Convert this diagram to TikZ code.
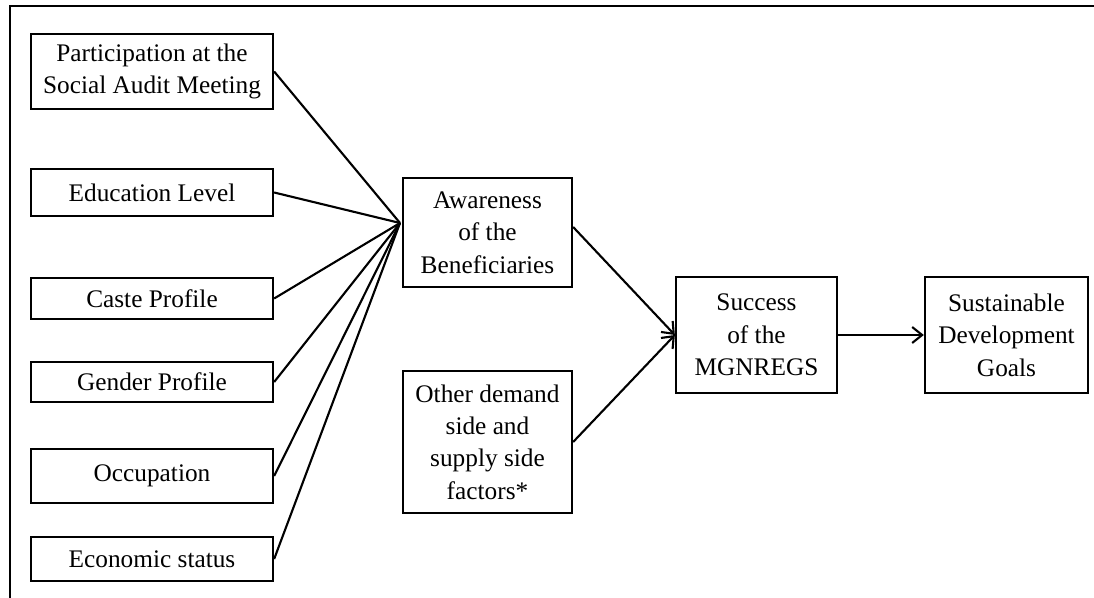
\documentclass[tikz,border=0pt]{standalone}
\usepackage{fontspec}
\setmainfont{Liberation Serif}
\usepackage{tikz}
\usetikzlibrary{arrows.meta}

\begin{document}
\begin{tikzpicture}[x=0.025cm,y=-0.025cm,
    box/.style={draw,line width=1.6pt,align=center,inner sep=2pt,font=\fontsize{18}{23}\selectfont},
    leftbox/.style={box,minimum width=6.05cm},
    link/.style={line width=1.5pt},
    flow/.style={line width=1.5pt,-{Straight Barb[length=2.5mm,width=4mm]}}]
    \useasboundingbox (0,0) rectangle (1094,598);
    \draw[line width=1.6pt](1100,6)--(10,6)--(10,604);
    \node[leftbox,minimum height=1.875cm](part)at (152,71.5){Participation at the\\Social Audit Meeting};
    \node[leftbox,minimum height=1.175cm](edu)at (152,192.5){Education Level};
    \node[leftbox,minimum height=1.025cm](caste)at (152,298.5){Caste Profile};
    \node[leftbox,minimum height=1cm](gender)at (152,382){Gender Profile};
    \node[leftbox,minimum height=1.35cm](occ)at (152,476){Occupation};
    \node[leftbox,minimum height=1.1cm](econ)at (152,559){Economic status};
    \node[box,minimum width=4.225cm,minimum height=2.725cm](aware)at (487.5,232.5){Awareness\\of the\\Beneficiaries};
    \node[box,minimum width=4.225cm,minimum height=3.55cm](other)at (487.5,442){Other demand\\side and\\supply side\\factors*};
    \node[box,minimum width=4.025cm,minimum height=2.9cm](succ)at (756.5,335){Success\\of the\\MGNREGS};
    \node[box,minimum width=4.075cm,minimum height=2.9cm](sdg)at (1006.5,335){Sustainable\\Development\\Goals};
    \coordinate(hub)at (400,223);
    \draw[link](part.east)--(hub);
    \draw[link](edu.east)--(hub);
    \draw[link](caste.east)--(hub);
    \draw[link](gender.east)--(hub);
    \draw[link](occ.east)--(hub);
    \draw[link](econ.east)--(hub);
    \draw[flow]([yshift=-0.1cm]aware.north east|-hub)--(succ.west);
    \draw[flow](other.east)--(succ.west);
    \draw[flow](succ.east)--(sdg.west);
\end{tikzpicture}
\end{document}
